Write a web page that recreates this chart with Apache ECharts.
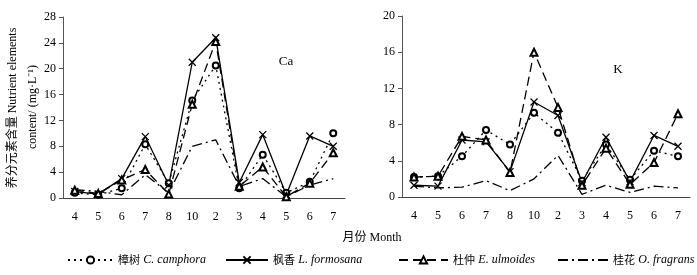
<!DOCTYPE html>
<html><head><meta charset="utf-8">
<script src="https://cdn.jsdelivr.net/npm/echarts@6/dist/echarts.min.js"></script>
<style>html,body{margin:0;padding:0;background:#fff}#c{width:697px;height:275px}</style>
</head><body><div id="c"></div>
<script>
var months = ['4','5','6','7','8','10','2','3','4','5','6','7'];
var caTicks = [0,4,8,12,16,20,24,28];
var kTicks = [0,4,8,12,16,20];
// Ca (mg/L)
var caCamphora   = [0.8,0.5,1.5,8.3,2.3,15.1,20.5,1.5,6.7,0.8,2.5,10.0];
var caFormosana  = [1.0,0.6,3.0,9.5,2.0,21.0,24.8,2.4,9.8,0.5,9.6,8.0];
var caUlmoides   = [1.2,0.7,2.8,4.4,0.6,14.5,24.2,1.8,4.8,0.2,2.3,7.0];
var caFragrans   = [1.3,1.0,0.5,3.6,0.8,8.0,9.0,1.8,3.0,0.2,2.0,3.0];
// K (mg/L)
var kCamphora    = [2.2,2.3,4.5,7.4,5.8,9.3,7.1,1.8,5.8,1.9,5.1,4.5];
var kFormosana   = [1.3,1.2,6.3,6.1,2.8,10.5,9.0,1.6,6.6,1.7,6.8,5.6];
var kUlmoides    = [2.2,2.3,6.7,6.3,2.7,16.0,9.9,1.3,5.4,1.4,3.8,9.2];
var kFragrans    = [1.2,1.0,1.1,1.8,0.7,2.0,4.6,0.3,1.3,0.5,1.2,1.0];
var names = ['樟树 C. camphora','枫香 L. formosana','杜仲 E. ulmoides','桂花 O. fragrans'];

var SERIF = "'Liberation Serif','Noto Sans CJK SC',serif";
var X = 'path://M0,0L10,10M10,0L0,10';
var styles = [
  {symbol:'emptyCircle', symbolSize:6, lineType:[2,4]},
  {symbol:X, symbolSize:7, lineType:'solid'},
  {symbol:'emptyTriangle', symbolSize:7, lineType:[9,5]},
  {symbol:'none', symbolSize:0, lineType:[10,4,2,4]}
];
function mk(i, data, g){
  var s = styles[i];
  return {
    name: names[i], type:'line', xAxisIndex:g, yAxisIndex:g, data:data,
    symbol: s.symbol, symbolSize: s.symbolSize, showSymbol: s.symbol !== 'none',
    lineStyle:{color:'#000', width:1.3, type:s.lineType},
    itemStyle:{color:'#000', borderColor:'#000', borderWidth:1.3},
    emphasis:{disabled:true}, animation:false, z: 3 - (i===3?1:0)
  };
}
function xAx(g){
  return {type:'category', gridIndex:g, data:months, boundaryGap:true,
    axisLine:{lineStyle:{color:'#444', width:1}},
    axisTick:{inside:true, length:4, lineStyle:{color:'#444'}},
    axisLabel:{color:'#000', fontSize:12, fontFamily:SERIF, margin:13}};
}
function yAx(g, ticks){
  return {type:'value', gridIndex:g, min:ticks[0], max:ticks[ticks.length-1], interval:ticks[1]-ticks[0],
    splitLine:{show:false},
    axisLine:{show:true, lineStyle:{color:'#555', width:1}},
    axisTick:{show:true, length:4, lineStyle:{color:'#555'}},
    axisLabel:{color:'#000', fontSize:12, fontFamily:SERIF, margin:7}};
}
var rich = {cn:{fontFamily:"'Noto Sans CJK SC'", fontSize:11, color:'#000'}, it:{fontFamily:SERIF, fontStyle:'italic', fontSize:12, color:'#000'}};
function lg(i, left, w, hideSym){
  var o = {data:[names[i]], left:left, top:249, itemWidth:w, itemHeight:9, itemGap:0,
    selectedMode:false,
    formatter:function(n){var p=n.split(' '); return '{cn|'+p[0]+'} {it|'+p.slice(1).join(' ')+'}';},
    textStyle:{rich:rich}};
  if (hideSym) o.itemStyle = {opacity:0};
  return o;
}
var chart = echarts.init(document.getElementById('c'), null, {renderer:'canvas'});
chart.setOption({
  backgroundColor:'#fff',
  animation:false,
  grid:[{left:63, top:17, width:282, height:181}, {left:402, top:16, width:288, height:181}],
  xAxis:[xAx(0), xAx(1)],
  yAxis:[yAx(0, caTicks), yAx(1, kTicks)],
  legend:[lg(0,62,45), lg(1,220,42), lg(2,393,49), lg(3,552,50,true)],
  series:[
    mk(0, caCamphora, 0), mk(1, caFormosana, 0), mk(2, caUlmoides, 0), mk(3, caFragrans, 0),
    mk(0, kCamphora, 1), mk(1, kFormosana, 1), mk(2, kUlmoides, 1), mk(3, kFragrans, 1)
  ],
  graphic:[
    {type:'text', x:286, y:62, style:{text:'Ca', font:"13px 'Liberation Serif'", fill:'#000', align:'center', verticalAlign:'middle'}},
    {type:'text', x:618, y:70, style:{text:'K', font:"13px 'Liberation Serif'", fill:'#000', align:'center', verticalAlign:'middle'}},
    {type:'text', x:372, y:238, style:{text:'月份 Month', font:"12px 'Liberation Serif','Noto Sans CJK SC'", fill:'#000', align:'center', verticalAlign:'middle'}},
    {type:'text', x:13, y:108, rotation:Math.PI/2, style:{text:'养分元素含量 Nutrient elements', font:"12px 'Liberation Serif','Noto Sans CJK SC'", fill:'#000', align:'center', verticalAlign:'middle'}},
    {type:'text', x:33, y:107, rotation:Math.PI/2, style:{text:'content/ (mg·L⁻¹)', font:"12px 'Liberation Serif','Noto Sans CJK SC'", fill:'#000', align:'center', verticalAlign:'middle'}}
  ]
});
</script></body></html>
